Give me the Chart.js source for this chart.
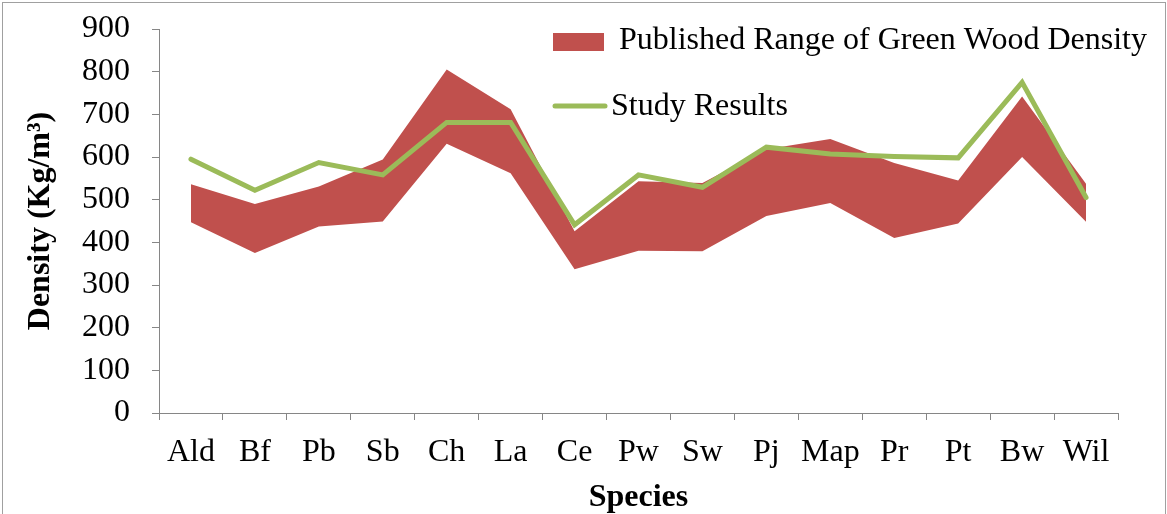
<!DOCTYPE html>
<html>
<head>
<meta charset="utf-8">
<script src="https://cdn.jsdelivr.net/npm/chart.js@4.4.1/dist/chart.umd.min.js"></script>
<style>
    html, body { margin: 0; padding: 0; background: #fff; }
    #wrap { width: 1167px; height: 514px; position: relative; }
</style>
</head>
<body>
<div id="wrap"><canvas id="densityChart" width="1167" height="514"></canvas></div>
<script>
// Species codes along the x axis
const species = ['Ald', 'Bf', 'Pb', 'Sb', 'Ch', 'La', 'Ce', 'Pw', 'Sw', 'Pj', 'Map', 'Pr', 'Pt', 'Bw', 'Wil'];

// Published range of green wood density (kg/m3)
const rangeHigh = [536, 490, 531, 594, 805, 712, 426, 543, 539, 618, 642, 586, 545, 742, 537];
const rangeLow = [447, 375, 437, 449, 631, 562, 337, 380, 379, 462, 492, 410, 444, 600, 448];

// Measured densities from this study
const studyResults = [595, 522, 587, 558, 681, 681, 441, 558, 529, 623, 607, 601, 598, 775, 505];

// Y axis range
const yMin = 0;
const yMax = 900;
const yStep = 100;

const serif = '"Liberation Serif", "Times New Roman", serif';
const fontSize = 32;
const red = '#C0504D';
const green = '#9BBB59';
const axisGray = '#868686';

// Legend and outer frame drawn straight onto the canvas
const legendPlugin = {
    id: 'sideLegend',
    afterDraw(chart) {
        const ctx = chart.ctx;
        ctx.save();
        ctx.strokeStyle = '#a0a0a0';
        ctx.lineWidth = 1;
        ctx.strokeRect(2.5, 2.5, 1163, 530);

        ctx.fillStyle = red;
        ctx.fillRect(553, 33, 51, 18);

        ctx.strokeStyle = green;
        ctx.lineWidth = 5;
        ctx.lineCap = 'round';
        ctx.beginPath();
        ctx.moveTo(555, 106);
        ctx.lineTo(605, 106);
        ctx.stroke();

        ctx.fillStyle = '#000';
        ctx.font = fontSize + 'px ' + serif;
        ctx.textBaseline = 'alphabetic';
        ctx.fillText('Published Range of Green Wood Density', 619, 49);
        ctx.fillText('Study Results', 611, 115);
        ctx.restore();
    }
};

document.addEventListener('DOMContentLoaded', function() {
    const ctx = document.getElementById('densityChart');
    new Chart(ctx, {
        type: 'line',
        data: {
            labels: species,
            datasets: [
                {
                    label: 'Study Results',
                    data: studyResults,
                    borderColor: green,
                    borderWidth: 5,
                    borderCapStyle: 'round',
                    borderJoinStyle: 'miter',
                    pointRadius: 0,
                    tension: 0,
                    fill: false,
                    order: 0
                },
                {
                    label: 'Published Range of Green Wood Density',
                    data: rangeHigh,
                    borderWidth: 0,
                    borderColor: 'rgba(0,0,0,0)',
                    backgroundColor: red,
                    pointRadius: 0,
                    tension: 0,
                    fill: '+1',
                    order: 1
                },
                {
                    label: 'low',
                    data: rangeLow,
                    borderWidth: 0,
                    borderColor: 'rgba(0,0,0,0)',
                    pointRadius: 0,
                    tension: 0,
                    fill: false,
                    order: 2
                }
            ]
        },
        options: {
            responsive: false,
            animation: false,
            layout: {
                padding: { top: 29, right: 49, bottom: 0, left: 0 }
            },
            plugins: {
                legend: { display: false },
                tooltip: { enabled: false }
            },
            scales: {
                x: {
                    offset: true,
                    grid: {
                        offset: true,
                        drawOnChartArea: false,
                        drawTicks: true,
                        tickLength: 7,
                        color: axisGray
                    },
                    border: { color: axisGray, width: 1 },
                    ticks: {
                        color: '#000',
                        font: { family: serif, size: fontSize },
                        padding: 13,
                        maxRotation: 0,
                        autoSkip: false
                    },
                    title: {
                        display: true,
                        text: 'Species',
                        color: '#000',
                        font: { family: serif, size: fontSize, weight: 'bold' },
                        padding: { top: 0, bottom: -3 }
                    },
                    afterFit(scale) {
                        scale.height = 101;
                    }
                },
                y: {
                    min: yMin,
                    max: yMax,
                    ticks: {
                        stepSize: yStep,
                        autoSkip: false,
                        color: '#000',
                        font: { family: serif, size: fontSize, lineHeight: 1 },
                        padding: 22
                    },
                    grid: {
                        drawOnChartArea: false,
                        drawTicks: true,
                        tickLength: 7,
                        color: axisGray
                    },
                    border: { color: axisGray, width: 1 },
                    title: {
                        display: true,
                        text: 'Density (Kg/m³)',
                        color: '#000',
                        font: { family: serif, size: fontSize, weight: 'bold' },
                        padding: { top: 22, bottom: 0 }
                    },
                    afterFit(scale) {
                        scale.width = 159;
                        scale.paddingTop = 0;
                        scale.paddingBottom = 0;
                    }
                }
            }
        },
        plugins: [legendPlugin]
    });
});
</script>
</body>
</html>
